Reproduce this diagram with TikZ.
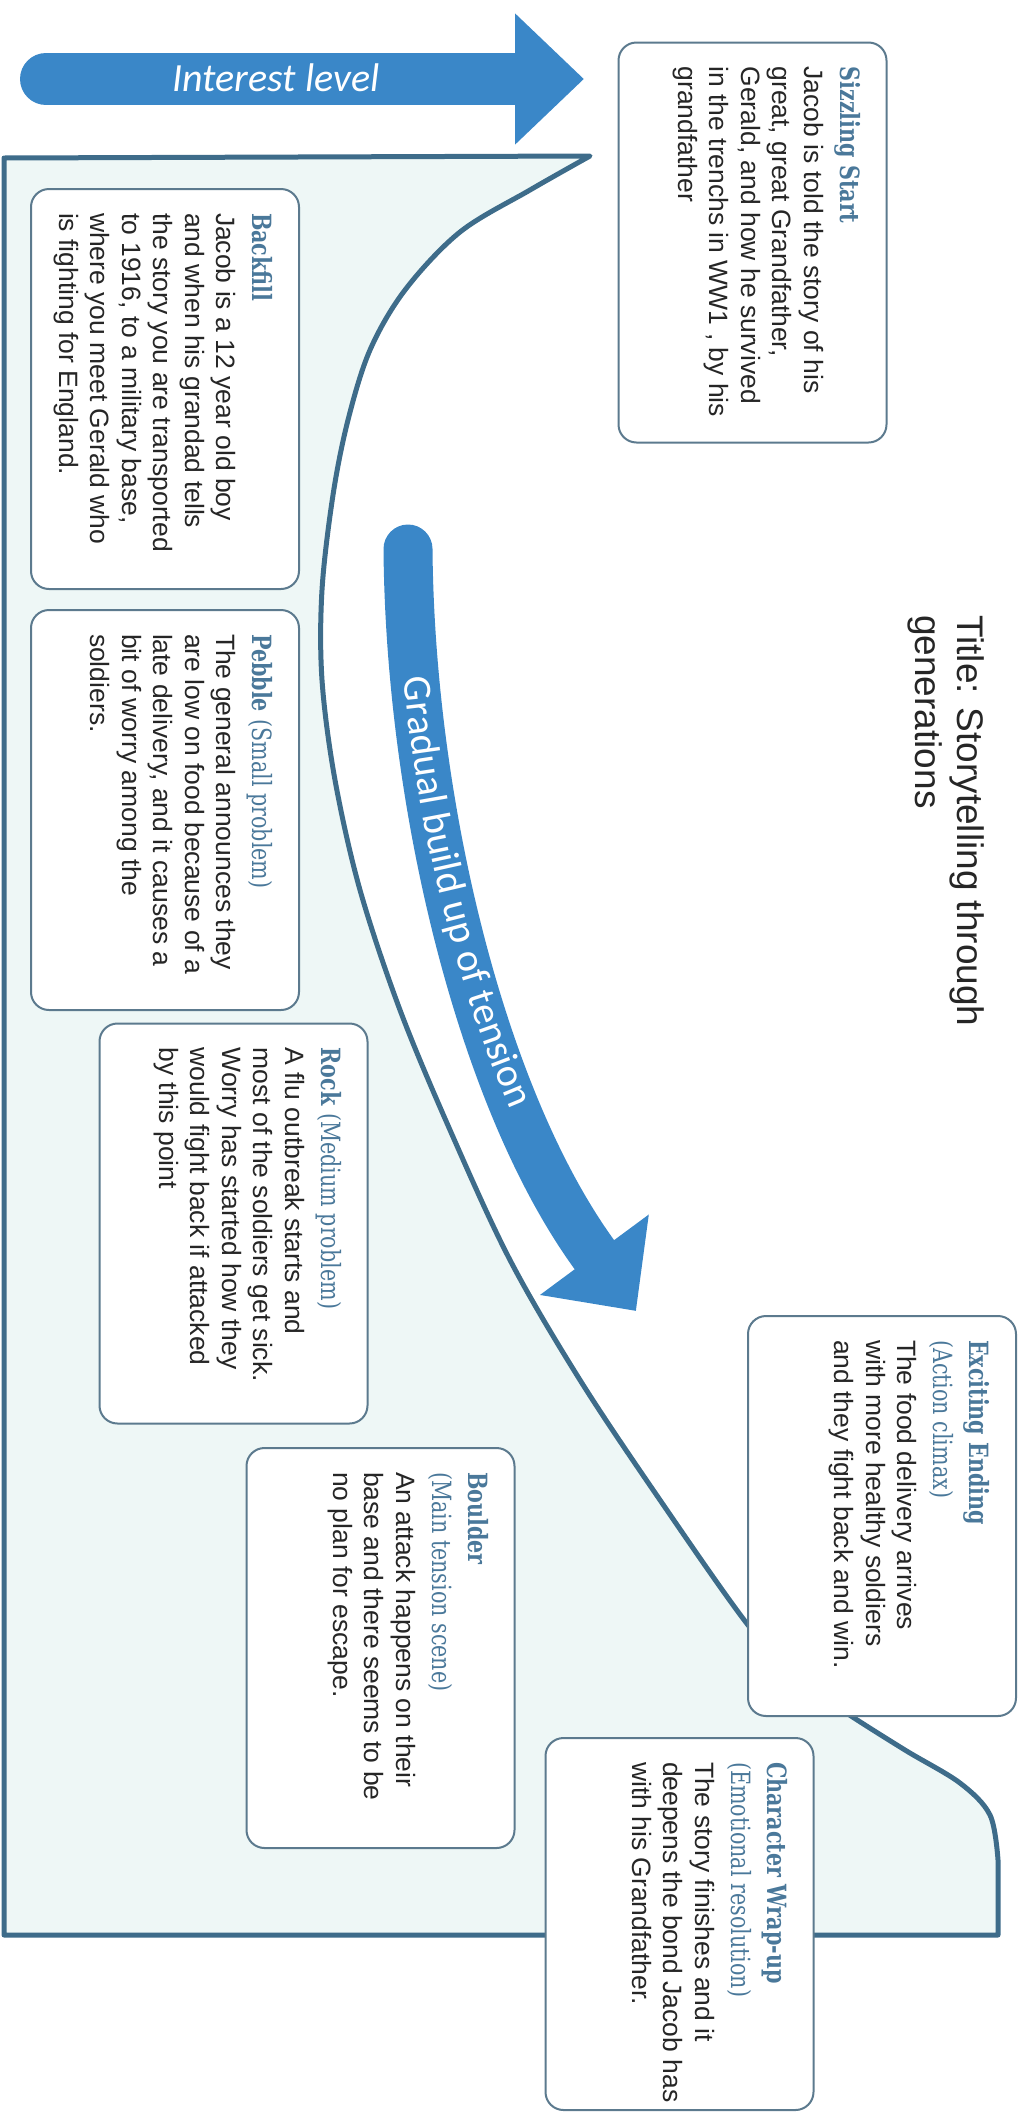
\documentclass[tikz,border=0pt]{standalone}
\usepackage{fontspec}
\setmainfont{Liberation Sans}
\newfontfamily\slabfont[FakeStretch=0.78]{DejaVu Serif}
\newfontfamily\calfont{Carlito}
\usepackage{xcolor}
\usetikzlibrary{arrows.meta, decorations.text}
\definecolor{arrowblue}{RGB}{58,135,200}
\definecolor{edgeblue}{RGB}{62,108,138}
\definecolor{cardline}{RGB}{92,122,142}
\definecolor{headblue}{RGB}{74,120,154}
\definecolor{mint}{RGB}{238,247,246}
\definecolor{inkgrey}{RGB}{38,38,38}
\newcommand{\hd}[1]{{\slabfont\fontsize{26.5}{31.5}\selectfont\color{headblue}\textbf{#1}}}
\newcommand{\hdr}[1]{{\slabfont\fontsize{26.5}{31.5}\selectfont\color{headblue}#1}}
\newcommand{\cardtext}[2][352pt]{\parbox[c][220pt][t]{#1}{\fontsize{26.5}{31.5}\selectfont\color{inkgrey}\begin{tabular}[t]{@{}l@{}}#2\end{tabular}}}
\newcommand{\tensionfont}{\calfont\fontsize{40}{40}\selectfont}

\begin{document}
\begin{tikzpicture}[x=1pt, y=-1pt,
  card/.style={draw=cardline, fill=white, line width=2pt, rounded corners=18pt, rotate=-90, inner sep=0pt, minimum width=400pt, minimum height=268pt},
  bigarrow/.style={draw=arrowblue, line cap=round}]
\useasboundingbox (0,0) rectangle (1022,2115);
% story mountain panel
\filldraw[fill=mint, draw=edgeblue, line width=5pt, line join=round]
  (4,1935) -- (4,158) -- (590,156) -- plot[smooth, tension=0.55] coordinates {(590,156) (530,190) (460,232) (405,290) (370,350) (348,420) (333,495) (322,590) (322,680) (335,780) (360,890) (400,1010) (450,1130) (510,1260) (580,1380) (660,1500) (748,1625) (800,1680) (845,1712) (905,1750) (960,1783) (990,1815) (998,1860)} -- (998,1935) -- cycle;

% interest arrow
\coordinate (intA) at (46,79);
\coordinate (intB) at (584,79);
\draw[bigarrow, line width=52pt, -{Triangle[length=69pt, width=127pt]}] (intA) -- (intB);
\node[font=\calfont\itshape\fontsize{40}{40}\selectfont, text=white] (interest) at (276,78) {Interest level};

% tension arrow
\coordinate (tenA) at (408,549);
\coordinate (tenB) at (636,1311);
\draw[bigarrow, line width=49pt, -{Triangle[length=70pt, width=131pt]}] (tenA) .. controls (410,800) and (480,1100) .. (tenB);
\path[decorate, decoration={text along path, text={|\tensionfont|Gradual build up of tension}, text color=white, text align={left indent=128pt}, raise=-11pt}] (tenA) .. controls (410,800) and (480,1100) .. (tenB);

\node[rotate=-90, anchor=north west, inner sep=0pt, align=left, text=inkgrey, font=\fontsize{37}{42}\selectfont] (title) at (984,615) {Title: Storytelling through\\generations};

% story cards
\node[card] (sizzling) at (752.5,242.5) {\cardtext{\hd{Sizzling Start}\\[4.5pt]
  Jacob is told the story of his\\ great, great Grandfather,\\ Gerald, and how he survived\\ in the trenchs in WW1 , by his\\ grandfather}};
\node[card] (backfill) at (165,389) {\cardtext{\hd{Backfill}\\[4.5pt]
  Jacob is a 12 year old boy\\ and when his grandad tells\\ the story you are transported\\ to 1916, to a military base,\\ where you meet Gerald who\\ is fighting for England.}};
\node[card] (pebble) at (165,810) {\cardtext{\hd{Pebble} \hdr{(Small problem)}\\[4.5pt]
  The general announces they\\ are low on food because of a\\ late delivery, and it causes a\\ bit of worry among the\\ soldiers.}};
\node[card] (rock) at (233.5,1223.5) {\cardtext{\hd{Rock} \hdr{(Medium problem)}\\[4.5pt]
  A flu outbreak starts and\\ most of the soldiers get sick.\\ Worry has started how they\\ would fight back if attacked\\ by this point}};
\node[card] (boulder) at (380.5,1648) {\cardtext{\hd{Boulder}\\[4.5pt] \hdr{(Main tension scene)}\\[4.5pt]
  An attack happens on their\\ base and there seems to be\\ no plan for escape.}};
\node[card] (exciting) at (882,1516) {\cardtext{\hd{Exciting Ending}\\[4.5pt] \hdr{(Action climax)}\\[4.5pt]
  The food delivery arrives\\ with more healthy soldiers\\ and they fight back and win.}};
\node[card, minimum width=372pt] (wrapup) at (679.5,1924) {\cardtext[324pt]{\hd{Character Wrap-up}\\[4.5pt] \hdr{(Emotional resolution)}\\[4.5pt]
  The story finishes and it\\ deepens the bond Jacob has\\ with his Grandfather.}};
\end{tikzpicture}
\end{document}
